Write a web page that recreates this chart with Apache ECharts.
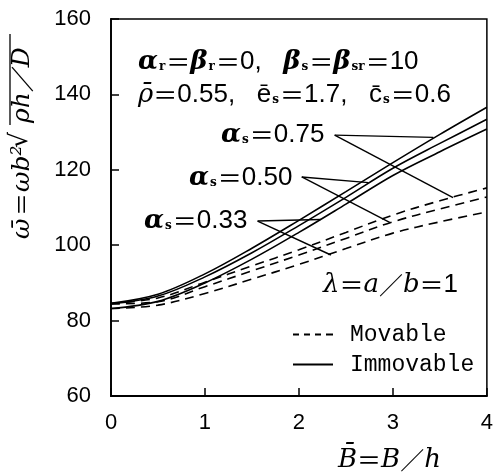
<!DOCTYPE html>
<html>
<head>
<meta charset="utf-8">
<script src="https://cdn.jsdelivr.net/npm/echarts@6/dist/echarts.min.js"></script>
<style>
  html, body { margin: 0; padding: 0; background: #fff; }
  #chart { width: 496px; height: 476px; }
</style>
</head>
<body>
<div id="chart"></div>
<script>
// B = B/h
const B = [0, 0.5, 1, 1.5, 2, 2.5, 3, 3.5, 4];
// Immovable (solid)
const immov075 = [84.6, 87.0, 92.4, 99.2, 106.6, 114.2, 121.9, 129.4, 136.6];
const immov050 = [84.4, 86.5, 91.6, 98.0, 105.2, 112.7, 120.4, 127.0, 133.4];
const immov033 = [83.2, 85.1, 90.0, 96.3, 103.4, 110.9, 118.5, 124.8, 130.8];
// Movable (dashed)
const mov075 = [84.6, 86.0, 90.2, 94.5, 98.8, 103.4, 108.0, 111.8, 115.2];
const mov050 = [84.4, 85.0, 89.0, 93.2, 97.4, 101.8, 106.2, 109.6, 112.8];
const mov033 = [83.2, 84.1, 87.2, 91.0, 94.9, 99.1, 103.2, 106.2, 108.8];

const xTicks = [0, 1, 2, 3, 4];
const yTicks = [60, 80, 100, 120, 140, 160];

// leader lines: label end -> curve point  [B, value]
const leaders = [
  [[2.38, 129.2], [3.43, 128.6]],
  [[2.38, 129.2], [3.64, 112.6]],
  [[2.03, 118.1], [2.74, 116.6]],
  [[2.03, 118.1], [2.97, 106.0]],
  [[1.56, 106.4], [2.23, 106.8]],
  [[1.56, 106.4], [2.34, 97.4]]
];

const pts = (vals) => B.map((b, i) => [b, vals[i]]);

const chart = echarts.init(document.getElementById('chart'));

const serif = 'DejaVu Serif';
const cjk = 'Noto Sans CJK JP';
const rich = {
  g: { fontFamily: serif, fontStyle: 'italic', fontWeight: 'bold', fontSize: 26, color: '#000' },
  r: { fontFamily: serif, fontStyle: 'italic', fontSize: 26, color: '#000' },
  s: { fontFamily: serif, fontWeight: 'bold', fontSize: 12, color: '#000', padding: [10, 1, 0, 1] },
  n: { fontFamily: 'Liberation Sans', fontSize: 26, color: '#000' },
  e: { fontFamily: cjk, fontSize: 24, color: '#000' }
};

const lineSeries = (name, vals, dashed) => ({
  name: name,
  type: 'line',
  data: pts(vals),
  smooth: 0.35,
  showSymbol: false,
  symbol: 'none',
  lineStyle: { color: '#000', width: 1.6, type: dashed ? [9, 6] : 'solid' },
  itemStyle: { color: '#000' },
  z: 3
});

const dashIcon = 'path://M0,0h6v2h-6z M11,0h6v2h-6z M22,0h6v2h-6z M33,0h7v2h-7z';
const solidIcon = 'path://M0,0h40v2h-40z';

const option = {
  animation: false,
  backgroundColor: '#fff',
  grid: {
    left: 111, right: 4, top: 19, bottom: 80,
    show: true, borderColor: '#000', borderWidth: 1.5, backgroundColor: 'transparent'
  },
  xAxis: {
    type: 'value', min: 0, max: 4, interval: 1,
    axisLine: { show: true, lineStyle: { color: '#000', width: 1.8 } },
    axisTick: { show: true, inside: true, length: 8, lineStyle: { color: '#000', width: 1.5 } },
    splitLine: { show: false },
    axisLabel: {
      margin: 16, color: '#000', fontSize: 22, fontFamily: 'Liberation Sans Narrow, Liberation Sans',
      formatter: (v) => xTicks.includes(v) ? String(v) : ''
    }
  },
  yAxis: {
    type: 'value', min: 60, max: 160, interval: 20,
    axisLine: { show: true, lineStyle: { color: '#000', width: 1.8 } },
    axisTick: { show: true, inside: true, length: 8, lineStyle: { color: '#000', width: 1.5 } },
    splitLine: { show: false },
    axisLabel: {
      margin: 20, color: '#000', fontSize: 22, fontFamily: 'Liberation Sans Narrow, Liberation Sans',
      formatter: (v) => yTicks.includes(v) ? String(v) : ''
    }
  },
  legend: {
    data: [
      { name: 'Movable', icon: dashIcon },
      { name: 'Immovable', icon: solidIcon }
    ],
    orient: 'vertical',
    left: 288, top: 318,
    itemWidth: 40, itemHeight: 2, itemGap: 7,
    textStyle: { fontFamily: 'Liberation Mono', fontSize: 23, color: '#000', padding: [0, 0, 0, 12] }
  },
  series: [
    lineSeries('Movable', mov075, true),
    lineSeries('Movable', mov050, true),
    lineSeries('Movable', mov033, true),
    lineSeries('Immovable', immov075, false),
    lineSeries('Immovable', immov050, false),
    lineSeries('Immovable', immov033, false),
    {
      type: 'lines',
      coordinateSystem: 'cartesian2d',
      data: leaders.map((c) => ({ coords: c })),
      lineStyle: { color: '#000', width: 1.4, opacity: 1 },
      silent: true,
      z: 4
    }
  ],
  graphic: [
    {
      type: 'text', left: 138, top: 49,
      style: {
        text: '{g|α}{s|r}{e|＝}{g|β}{s|r}{e|＝}{n|0,   }{g|β}{s|s}{e|＝}{g|β}{s|sr}{e|＝}{n|10}',
        rich: rich
      }
    },
    {
      type: 'text', left: 138, top: 82,
      style: {
        text: '{r|ρ̄}{e|＝}{n|0.55,   ē}{s|s}{e|＝}{n|1.7,   c̄}{s|s}{e|＝}{n|0.6}',
        rich: rich
      }
    },
    { type: 'text', left: 221, top: 122, style: { text: '{g|α}{s|s}{e|＝}{n|0.75}', rich: rich } },
    { type: 'text', left: 189, top: 165, style: { text: '{g|α}{s|s}{e|＝}{n|0.50}', rich: rich } },
    { type: 'text', left: 144, top: 208, style: { text: '{g|α}{s|s}{e|＝}{n|0.33}', rich: rich } },
    {
      type: 'text', left: 323, top: 272,
      style: { text: '{r|λ}{e|＝}{r|a}{e|／}{r|b}{e|＝}{n|1}', rich: rich }
    },
    {
      type: 'text', left: 338, top: 447,
      style: { text: '{r|B̄}{e|＝}{r|B}{e|／}{r|h}', rich: rich }
    },
    // vertical y-axis title, read bottom to top
    {
      type: 'text', x: 10, y: 239, rotation: Math.PI / 2,
      style: { text: 'ω̄', font: 'italic 25px "DejaVu Serif"', fill: '#000', verticalAlign: 'top' }
    },
    {
      type: 'text', x: 10, y: 216, rotation: Math.PI / 2,
      style: { text: '＝', font: '23px "Noto Sans CJK JP"', fill: '#000', verticalAlign: 'top' }
    },
    {
      type: 'text', x: 10, y: 192, rotation: Math.PI / 2,
      style: { text: 'ωb²', font: 'italic 25px "DejaVu Serif"', fill: '#000', verticalAlign: 'top' }
    },
    {
      type: 'text', x: 8, y: 148, rotation: Math.PI / 2,
      style: { text: '√', font: '25px "DejaVu Sans"', fill: '#000', verticalAlign: 'top' }
    },
    {
      type: 'text', x: 10, y: 123, rotation: Math.PI / 2,
      style: { text: 'ρh／D', font: 'italic 25px "DejaVu Serif"', fill: '#000', verticalAlign: 'top' }
    },
    {
      type: 'line', shape: { x1: 10, y1: 125, x2: 10, y2: 34 },
      style: { stroke: '#000', lineWidth: 1.3 }
    }
  ]
};

chart.setOption(option);
</script>
</body>
</html>
